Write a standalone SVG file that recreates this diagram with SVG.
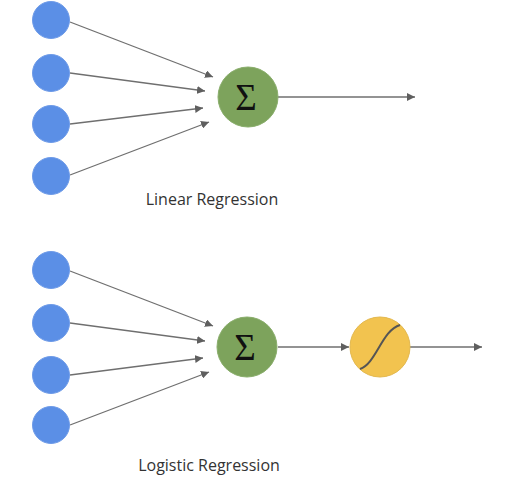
<svg xmlns="http://www.w3.org/2000/svg" width="512" height="483" viewBox="0 0 512 483">
<style>
.in{fill:#5B8FE6;stroke:#6E9BE8;stroke-width:1}
.sum{fill:#7DA35C;stroke:#8AAE6C;stroke-width:1}
.sig{fill:#F2C34F;stroke:#E3B84E;stroke-width:1}
.c{stroke:#6F6F6F;stroke-width:1.3;fill:none}
.lbl{font-family:"Open Sans","Liberation Sans",sans-serif;font-size:16px;fill:#333}
.sym{font-family:"Liberation Serif","DejaVu Serif",serif;font-size:37px;fill:#111}
</style>
<defs>
<marker id="ah" viewBox="0 0 10 10" refX="10" refY="5" markerWidth="8" markerHeight="8" markerUnits="userSpaceOnUse" orient="auto">
<path d="M0,0 L10,5 L0,10 z" fill="#5F5F5F"/>
</marker>
</defs>
<rect width="512" height="483" fill="#FFFFFF"/>
<g id="connectors">
<line class="c" x1="70" y1="22" x2="213" y2="77" marker-end="url(#ah)"/>
<line class="c" x1="70" y1="73" x2="205" y2="91" marker-end="url(#ah)"/>
<line class="c" x1="70" y1="124" x2="203" y2="108" marker-end="url(#ah)"/>
<line class="c" x1="70" y1="175" x2="209" y2="122" marker-end="url(#ah)"/>
<line class="c" x1="278" y1="97" x2="415" y2="97" marker-end="url(#ah)"/>
<line class="c" x1="70" y1="271" x2="213" y2="326" marker-end="url(#ah)"/>
<line class="c" x1="70" y1="323" x2="205" y2="341" marker-end="url(#ah)"/>
<line class="c" x1="70" y1="375" x2="203" y2="358" marker-end="url(#ah)"/>
<line class="c" x1="70" y1="425" x2="209" y2="372" marker-end="url(#ah)"/>
<line class="c" x1="278" y1="347" x2="349" y2="347" marker-end="url(#ah)"/>
<line class="c" x1="410" y1="347" x2="482" y2="347" marker-end="url(#ah)"/>
</g>
<g id="lin-in1"><circle class="in" cx="51" cy="20" r="18.5"/></g>
<g id="lin-in2"><circle class="in" cx="51" cy="73" r="18.5"/></g>
<g id="lin-in3"><circle class="in" cx="51" cy="124" r="18.5"/></g>
<g id="lin-in4"><circle class="in" cx="51" cy="176" r="18.5"/></g>
<g id="lin-sum"><circle class="sum" cx="248" cy="97" r="30"/><text class="sym" x="246" y="110" text-anchor="middle">Σ</text></g>
<g id="lin-label"><text class="lbl" x="212" y="205" text-anchor="middle">Linear Regression</text></g>
<g id="log-in1"><circle class="in" cx="51" cy="270" r="18.5"/></g>
<g id="log-in2"><circle class="in" cx="51" cy="323" r="18.5"/></g>
<g id="log-in3"><circle class="in" cx="51" cy="375" r="18.5"/></g>
<g id="log-in4"><circle class="in" cx="51" cy="425" r="18.5"/></g>
<g id="log-sum"><circle class="sum" cx="247" cy="347" r="30"/><text class="sym" x="245" y="360" text-anchor="middle">Σ</text></g>
<g id="log-sigmoid"><circle class="sig" cx="380" cy="347" r="30"/><path d="M360,369 C376,364 382,330 400,325" fill="none" stroke="#555" stroke-width="2"/></g>
<g id="log-label"><text class="lbl" x="209" y="471" text-anchor="middle">Logistic Regression</text></g>
</svg>
